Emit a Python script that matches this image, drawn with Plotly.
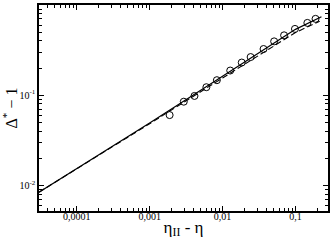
import plotly.graph_objects as go

# measured points (circles)
eta_diff = [0.00188, 0.00294, 0.00412, 0.0060, 0.00836, 0.01274, 0.01833, 0.02427,
            0.0365, 0.0510, 0.0698, 0.0984, 0.1456, 0.1883]
delta_m1 = [0.0601, 0.0846, 0.0980, 0.1225, 0.1466, 0.1875, 0.230, 0.2646,
            0.325, 0.395, 0.461, 0.543, 0.633, 0.702]

# solid curve (fit with correction)
fit_x = [3.04e-5, 1e-4, 1e-3, 1e-2, 1e-1, 0.227]
fit_y = [0.00839, 0.0153, 0.0490, 0.162, 0.537, 0.741]

# dashed curve (pure power law)
pow_x = [3.04e-5, 1e-4, 1e-3, 1e-2, 1e-1, 0.215]
pow_y = [0.00839, 0.0152, 0.0482, 0.155, 0.495, 0.66]

x_tickvals = [1e-4, 1e-3, 1e-2, 1e-1]
x_ticktext = ["0,0001", "0,001", "0,01", "0,1"]
y_tickvals = [1e-2, 1e-1, 1]
y_ticktext = ["10<sup>-2</sup>", "10<sup>-1</sup>", "10<sup>0</sup>"]

x_minor = [m * 10.0 ** e for e in range(-5, 0) for m in range(2, 10)]
y_minor = [m * 10.0 ** e for e in range(-3, 0) for m in range(2, 10)]

fig = go.Figure()
fig.add_trace(go.Scatter(x=fit_x, y=fit_y, mode="lines",
                         line=dict(color="black", width=1.2), showlegend=False))
fig.add_trace(go.Scatter(x=pow_x, y=pow_y, mode="lines",
                         line=dict(color="black", width=1.1, dash="6px,3px"), showlegend=False))
fig.add_trace(go.Scatter(x=eta_diff, y=delta_m1, mode="markers",
                         marker=dict(symbol="circle-open", size=7, color="black",
                                     line=dict(width=1, color="black")),
                         showlegend=False))

font_serif = "Liberation Serif"
fig.update_layout(
    width=332, height=241,
    margin=dict(l=39, r=2, t=5, b=30),
    plot_bgcolor="white", paper_bgcolor="white",
    font=dict(family=font_serif, color="black", size=10),
)
fig.update_xaxes(
    type="log", range=[-4.517, -0.554],
    showgrid=False, zeroline=False,
    showline=True, linecolor="black", linewidth=1.5, mirror="ticks",
    ticks="inside", ticklen=5, tickwidth=1, tickcolor="black",
    tickvals=x_tickvals, ticktext=x_ticktext, ticklabelstandoff=-5,
    tickfont=dict(family=font_serif, size=10, color="black"),
    minor=dict(ticks="inside", ticklen=3, tickwidth=1, tickcolor="black",
               tickvals=x_minor, showgrid=False),
    title=dict(text="η<sub>II</sub> - η", font=dict(family=font_serif, size=17, color="black"), standoff=0),
)
fig.update_yaxes(
    type="log", range=[-2.285, 0],
    showgrid=False, zeroline=False,
    showline=True, linecolor="black", linewidth=1.5, mirror="ticks",
    ticks="inside", ticklen=5, tickwidth=1, tickcolor="black",
    tickvals=y_tickvals, ticktext=y_ticktext,
    tickfont=dict(family=font_serif, size=10, color="black"),
    minor=dict(ticks="inside", ticklen=3, tickwidth=1, tickcolor="black",
               tickvals=y_minor, showgrid=False),
    title=dict(text="Δ<sup>*</sup> − 1", font=dict(family=font_serif, size=16, color="black"), standoff=2),
)

fig.write_html(
    "out.html",
    config={"displayModeBar": False},
    post_script="document.body.style.margin='0';document.body.style.overflow='hidden';",
)
